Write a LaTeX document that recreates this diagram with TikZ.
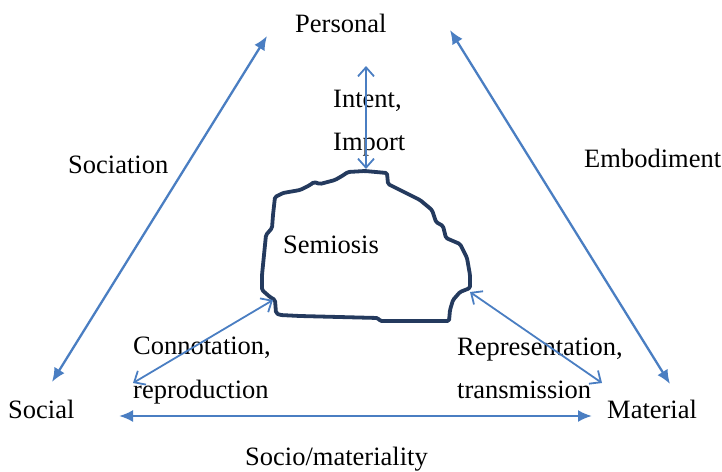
\documentclass[tikz,border=0pt]{standalone}
\usepackage{fontspec}
\setmainfont{Liberation Serif}
\usetikzlibrary{arrows.meta}
\definecolor{arrowblue}{RGB}{74,126,194}
\definecolor{blobnavy}{RGB}{36,58,94}
\begin{document}
\begin{tikzpicture}[x=1pt,y=-1pt,
  lbl/.style={anchor=base west,inner sep=0pt,font=\fontsize{26.5}{30}\selectfont},
  bigarrow/.style={draw=arrowblue,line width=2.3pt,{Latex[length=14pt,width=12pt]}-{Latex[length=14pt,width=12pt]}},
  thinarrow/.style={draw=arrowblue,line width=1.8pt,{Straight Barb[length=9pt,width=16pt]}-{Straight Barb[length=9pt,width=16pt]}},
  blob/.style={draw=blobnavy,line width=3.8pt,line join=round,rounded corners=1.5pt}]
\useasboundingbox (0,0) rectangle (722,471);

% labels
\node[lbl] (personal)   at (295,32)  {Personal};
\node[lbl] (sociation)  at (68,173)  {Sociation};
\node[lbl] (embodiment) at (584,167) {Embodiment};
\node[lbl] (social)     at (8,418)   {Social};
\node[lbl] (material)   at (607,418) {Material};
\node[lbl] (sociomat)   at (245,465) {Socio/materiality};
\node[lbl] (intent)     at (333,107) {Intent,};
\node[lbl] (import)     at (333,150) {Import};
\node[lbl] (semiosis)   at (283,253) {Semiosis};
\node[lbl] (connot)     at (133,354) {Connotation,};
\node[lbl] (reprod)     at (133,398) {reproduction};
\node[lbl] (represent)  at (457,355) {Representation,};
\node[lbl] (transm)     at (457,398) {transmission};

% semiosis outline
\draw[blob] (275,197) -- (283,193) -- (300,190) -- (310,185) -- (314,182)
  -- (320,184) -- (335,180) -- (342,176) -- (348,172) -- (365,171)
  -- (387,173) -- (388,184) -- (400,190) -- (420,200) -- (432,210)
  -- (436,222) -- (443,226) -- (446,238) -- (460,244) -- (467,258)
  -- (470,275) -- (470,288) -- (460,292) -- (453,300) -- (450,310)
  -- (449,321) -- (380,321) -- (378,318) -- (300,316) -- (280,315)
  -- (276,313) -- (275,300) -- (270,297) -- (262,290) -- (262,275)
  -- (264,255) -- (266,235) -- (272,228) -- (273,215) -- cycle;

% connector end points
\coordinate (pL) at (267,36);
\coordinate (sU) at (52,382);
\coordinate (pR) at (450,30);
\coordinate (mU) at (670,384);
\coordinate (sR) at (119,416);
\coordinate (mL) at (592,416);
\coordinate (iTop) at (366,66);
\coordinate (bTop) at (366,169);
\coordinate (bLeft) at (273,300);
\coordinate (cEnd) at (133,383);
\coordinate (bRight) at (470,292);
\coordinate (rEnd) at (602,383);

% triangle sides
\draw[bigarrow] (pL) -- (sU);
\draw[bigarrow] (pR) -- (mU);
\draw[bigarrow] (sR) -- (mL);

% links to semiosis
\draw[thinarrow] (iTop) -- (bTop);
\draw[thinarrow] (bLeft) -- (cEnd);
\draw[thinarrow] (bRight) -- (rEnd);
\end{tikzpicture}
\end{document}
